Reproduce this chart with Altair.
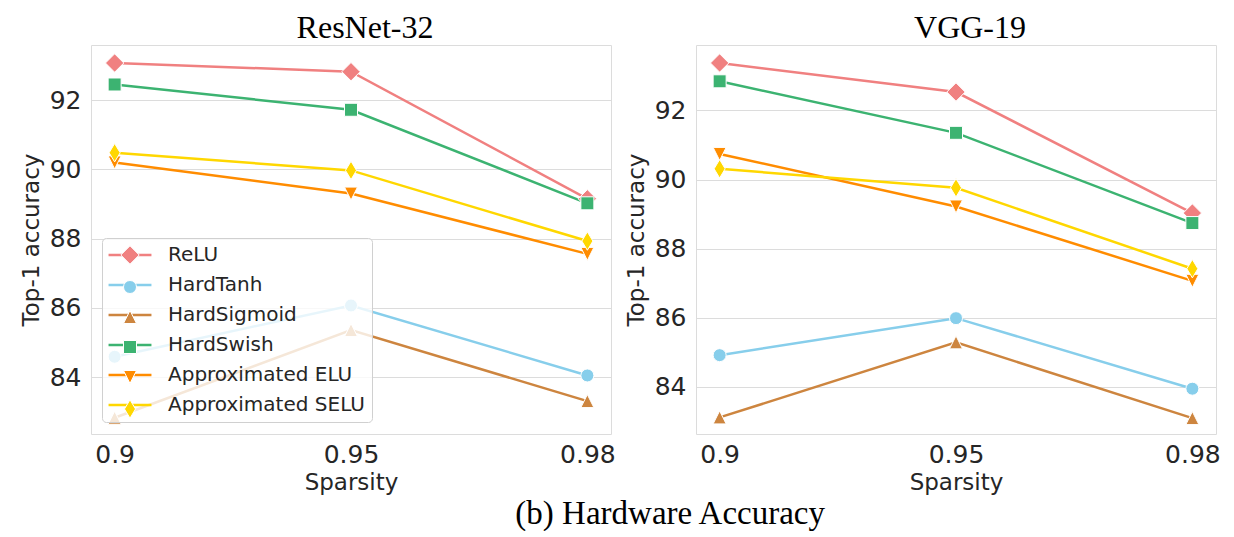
import altair as alt
import pandas as pd

SPARSITY = ["0.9", "0.95", "0.98"]
SERIES = ["ReLU", "HardTanh", "HardSigmoid", "HardSwish",
          "Approximated ELU", "Approximated SELU"]
COLORS = ["#F08080", "#87CEEB", "#CD853F", "#3CB371", "#FF8C00", "#FFD700"]
SHAPES = [
    "M0,-1.414L1.414,0L0,1.414L-1.414,0Z",   # diamond
    "circle",
    "M0,-1L1,1L-1,1Z",                        # triangle up
    "square",
    "M0,1L1,-1L-1,-1Z",                       # triangle down
    "M0,-1.414L0.85,0L0,1.414L-0.85,0Z",      # thin diamond
]

RESNET_RELU = [93.07, 92.82, 89.15]
RESNET_HARDTANH = [84.59, 86.07, 84.05]
RESNET_HARDSIGMOID = [82.83, 85.36, 83.31]
RESNET_HARDSWISH = [92.45, 91.72, 89.02]
RESNET_AELU = [90.20, 89.30, 87.56]
RESNET_ASELU = [90.48, 89.97, 87.93]

VGG_RELU = [93.37, 92.53, 89.03]
VGG_HARDTANH = [84.92, 85.99, 83.95]
VGG_HARDSIGMOID = [83.12, 85.29, 83.10]
VGG_HARDSWISH = [92.84, 91.35, 88.74]
VGG_AELU = [90.74, 89.22, 87.07]
VGG_ASELU = [90.31, 89.76, 87.42]

RESNET = [RESNET_RELU, RESNET_HARDTANH, RESNET_HARDSIGMOID,
          RESNET_HARDSWISH, RESNET_AELU, RESNET_ASELU]
VGG = [VGG_RELU, VGG_HARDTANH, VGG_HARDSIGMOID,
       VGG_HARDSWISH, VGG_AELU, VGG_ASELU]

Y_TICKS = [84, 86, 88, 90, 92]
RESNET_DOMAIN = [82.36, 93.59]
VGG_DOMAIN = [82.64, 93.89]


def frame(values):
    rows = []
    for name, vals in zip(SERIES, values):
        for s, v in zip(SPARSITY, vals):
            rows.append({"Sparsity": s, "Accuracy": v, "Series": name})
    return pd.DataFrame(rows)


TEXT = "#262626"
GRID = "#dcdcdc"

LEG_X = 11
LEG_Y = 193
common_leg = dict(
    orient="none", legendX=LEG_X, legendY=LEG_Y, title=None,
    symbolSize=169, labelFontSize=20, labelFont="DejaVu Sans",
    padding=7, rowPadding=10, symbolOffset=11, labelOffset=28,
    labelLimit=400,
)


def panel(values, title, domain, with_legend):
    df = frame(values)
    x = alt.X("Sparsity:O", sort=SPARSITY, scale=alt.Scale(padding=0.1),
              axis=alt.Axis(labelAngle=0, title="Sparsity", ticks=False,
                            domain=False, labelPadding=8, titlePadding=4))
    y = alt.Y("Accuracy:Q",
              scale=alt.Scale(domain=domain, nice=False, zero=False),
              axis=alt.Axis(values=Y_TICKS, ticks=False, domain=False,
                            labelPadding=10, title="Top-1 accuracy",
                            titlePadding=6))
    if with_legend:
        line_leg = alt.Legend(symbolType="M-3.3,0H3.3", symbolStrokeWidth=2.5,
                              labelColor=TEXT,
                              fillColor="rgba(255,255,255,0.8)",
                              strokeColor="#d0d0d0", cornerRadius=4,
                              zindex=0, **common_leg)
        pt_leg = alt.Legend(symbolStrokeWidth=1, labelExpr="''",
                            zindex=1, **common_leg)
    else:
        line_leg = None
        pt_leg = None
    lines = alt.Chart(df).mark_line(strokeWidth=2.5).encode(
        x=x, y=y,
        stroke=alt.Stroke("Series:N", sort=SERIES,
                          scale=alt.Scale(range=COLORS), legend=line_leg),
    )
    pts = alt.Chart(df).mark_point(filled=True, size=169, stroke="white",
                                   strokeWidth=1, opacity=1).encode(
        x=x, y=y,
        color=alt.Color("Series:N",
                        scale=alt.Scale(domain=SERIES, range=COLORS),
                        legend=pt_leg),
        shape=alt.Shape("Series:N",
                        scale=alt.Scale(domain=SERIES, range=SHAPES),
                        legend=pt_leg),
    )
    return alt.layer(lines, pts).properties(
        width=520, height=389,
        title=alt.Title(title, font="Liberation Serif", fontSize=32,
                        fontWeight="normal", color="black", dx=14, offset=0),
    )


left = panel(RESNET, "ResNet-32", RESNET_DOMAIN, True)
right = panel(VGG, "VGG-19", VGG_DOMAIN, False)

chart = alt.hconcat(left, right, spacing=8).resolve_scale(
    x="independent", y="independent", color="independent",
    shape="independent", stroke="independent",
).resolve_legend(
    color="independent", shape="independent", stroke="independent",
).properties(
    title=alt.Title("(b) Hardware Accuracy", orient="bottom", anchor="middle",
                    font="Liberation Serif", fontSize=33, fontWeight="normal",
                    color="black", dx=50, offset=3),
    padding={"left": 11, "top": 3, "right": 0, "bottom": 0},
).configure_axis(
    labelFont="DejaVu Sans", labelFontSize=25, labelColor=TEXT,
    titleFont="DejaVu Sans", titleFontSize=23, titleFontWeight="normal",
    titleColor=TEXT, gridColor=GRID, gridWidth=1,
).configure_view(
    stroke=GRID, strokeWidth=1,
)

chart.save("out.html", embed_options={"renderer": "svg", "actions": False})
